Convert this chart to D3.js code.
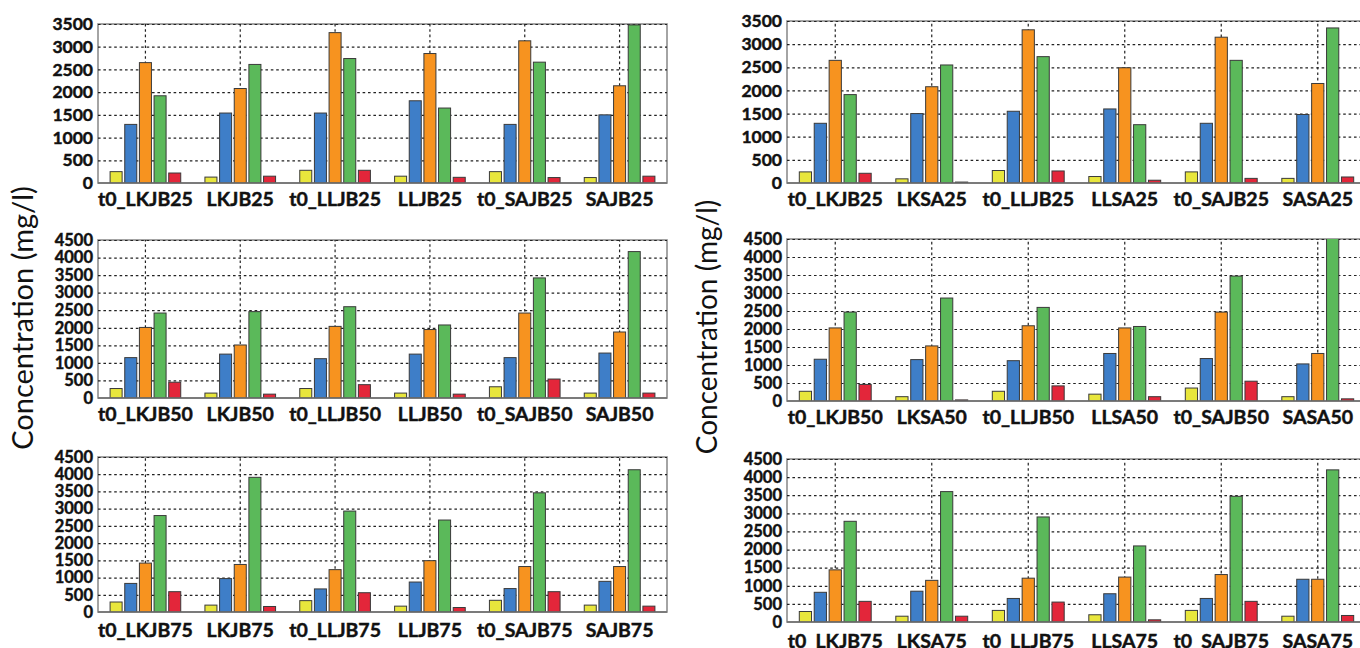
<!DOCTYPE html>
<html>
<head>
<meta charset="utf-8">
<script src="https://cdn.jsdelivr.net/npm/d3@7"></script>
<style>
  html, body { margin: 0; padding: 0; background: #ffffff; }
  svg { display: block; }
</style>
</head>
<body>
<svg id="chart" width="1360" height="648"></svg>
<script>
// Sample groups for each panel (left column: JB series, right column: JB vs SA series)
const groups25L = ["t0_LKJB25", "LKJB25", "t0_LLJB25", "LLJB25", "t0_SAJB25", "SAJB25"];
const groups25R = ["t0_LKJB25", "LKSA25", "t0_LLJB25", "LLSA25", "t0_SAJB25", "SASA25"];
const groups50L = ["t0_LKJB50", "LKJB50", "t0_LLJB50", "LLJB50", "t0_SAJB50", "SAJB50"];
const groups50R = ["t0_LKJB50", "LKSA50", "t0_LLJB50", "LLSA50", "t0_SAJB50", "SASA50"];
const groups75L = ["t0_LKJB75", "LKJB75", "t0_LLJB75", "LLJB75", "t0_SAJB75", "SAJB75"];
const groups75R = ["t0_LKJB75", "LKSA75", "t0_LLJB75", "LLSA75", "t0_SAJB75", "SASA75"];

// Concentrations (mg/l), one row per group, five measured species per row
const conc25L = [
  [250, 1290, 2650, 1920, 220],
  [130, 1540, 2080, 2610, 150],
  [280, 1540, 3310, 2740, 280],
  [150, 1810, 2850, 1650, 125],
  [250, 1290, 3130, 2660, 120],
  [120, 1500, 2140, 3480, 150]
];
const conc25R = [
  [240, 1290, 2650, 1910, 210],
  [90, 1500, 2080, 2550, 20],
  [270, 1550, 3310, 2730, 260],
  [140, 1600, 2490, 1260, 60],
  [240, 1290, 3150, 2650, 100],
  [100, 1480, 2150, 3350, 130]
];
const conc50L = [
  [270, 1150, 2010, 2420, 450],
  [140, 1250, 1510, 2460, 110],
  [270, 1120, 2040, 2600, 380],
  [140, 1250, 1950, 2080, 110],
  [320, 1150, 2420, 3420, 540],
  [140, 1280, 1880, 4170, 140]
];
const conc50R = [
  [270, 1160, 2030, 2470, 460],
  [120, 1150, 1530, 2860, 30],
  [270, 1120, 2090, 2600, 420],
  [190, 1320, 2030, 2070, 120],
  [360, 1180, 2470, 3470, 550],
  [120, 1030, 1320, 4600, 60]
];
const conc75L = [
  [290, 830, 1420, 2800, 590],
  [200, 970, 1380, 3910, 160],
  [330, 670, 1230, 2930, 560],
  [170, 870, 1490, 2670, 130],
  [340, 680, 1320, 3460, 590],
  [200, 890, 1320, 4130, 170]
];
const conc75R = [
  [290, 820, 1440, 2780, 570],
  [160, 850, 1150, 3600, 160],
  [320, 650, 1210, 2900, 550],
  [200, 780, 1240, 2100, 60],
  [320, 650, 1310, 3470, 570],
  [160, 1180, 1180, 4200, 180]
];

// Y tick labels
const ticks3500 = [0, 500, 1000, 1500, 2000, 2500, 3000, 3500];
const ticks4500 = [0, 500, 1000, 1500, 2000, 2500, 3000, 3500, 4000, 4500];

// Bar fill per species
const barColors = ["#e8e63c", "#3e7ec8", "#f7931f", "#5bb95a", "#e3263a"];

const axisTitle = "Concentration (mg/l)";

// Panel placement
const panels = [
  { groups: groups25L, values: conc25L, ticks: ticks3500, x0: 98,  x1: 667,  top: 24,  zero: 183, pad: 9 },
  { groups: groups25R, values: conc25R, ticks: ticks3500, x0: 787, x1: 1366, top: 21,  zero: 183, pad: 9 },
  { groups: groups50L, values: conc50L, ticks: ticks4500, x0: 98,  x1: 667,  top: 240, zero: 398, pad: 9 },
  { groups: groups50R, values: conc50R, ticks: ticks4500, x0: 787, x1: 1366, top: 239, zero: 401, pad: 9 },
  { groups: groups75L, values: conc75L, ticks: ticks4500, x0: 98,  x1: 667,  top: 457, zero: 612, pad: 11 },
  { groups: groups75R, values: conc75R, ticks: ticks4500, x0: 787, x1: 1366, top: 459, zero: 622, pad: 12 }
];

const svg = d3.select("#chart");
const FONT = "Lato, 'Open Sans', 'DejaVu Sans', sans-serif";

panels.forEach((p, i) => {
  const g = svg.append("g");
  const yMax = p.ticks[p.ticks.length - 1];

  const x = d3.scaleBand().domain(p.groups).range([p.x0, p.x1]);
  const inner = x.bandwidth() * 0.745;
  const xs = d3.scaleBand().domain(d3.range(5)).range([-inner / 2, inner / 2]).paddingInner(0.18);
  const y = d3.scaleLinear().domain([0, yMax]).range([p.zero, p.top]);

  const clipId = "plot-clip-" + i;
  svg.append("defs").append("clipPath").attr("id", clipId)
    .append("rect")
    .attr("x", p.x0).attr("y", p.top)
    .attr("width", p.x1 - p.x0).attr("height", p.zero - p.top);

  // plot frame
  g.append("rect")
    .attr("x", p.x0).attr("y", p.top)
    .attr("width", p.x1 - p.x0).attr("height", p.zero - p.top)
    .attr("fill", "#ffffff")
    .attr("stroke", "#8e8e8e")
    .attr("stroke-width", 1.6);

  // horizontal grid
  const hGrid = g.append("g")
    .attr("transform", `translate(${p.x0},0)`)
    .call(d3.axisLeft(y).tickValues(p.ticks.filter(t => t > 0)).tickSize(-(p.x1 - p.x0)).tickFormat(""));
  hGrid.select(".domain").remove();
  hGrid.selectAll("line").attr("stroke", "#222").attr("stroke-width", 1.2).attr("stroke-dasharray", "2.6,2.8");

  // vertical grid at group centres
  const vGrid = g.append("g")
    .attr("transform", `translate(0,${p.zero})`)
    .call(d3.axisBottom(x).tickSize(-(p.zero - p.top)).tickFormat(""));
  vGrid.select(".domain").remove();
  vGrid.selectAll("line").attr("stroke", "#222").attr("stroke-width", 1.2).attr("stroke-dasharray", "2.6,2.8");

  // bars
  const plot = g.append("g").attr("clip-path", `url(#${clipId})`);
  const grp = plot.selectAll("g.grp")
    .data(p.groups.map((name, k) => ({ name, vals: p.values[k] })))
    .join("g")
    .attr("class", "grp")
    .attr("transform", d => `translate(${x(d.name) + x.bandwidth() / 2},0)`);
  grp.selectAll("rect")
    .data(d => d.vals.map((v, s) => ({ v, s })))
    .join("rect")
    .attr("x", d => xs(d.s))
    .attr("width", xs.bandwidth())
    .attr("y", d => y(d.v))
    .attr("height", d => y(0) - y(d.v))
    .attr("fill", d => barColors[d.s])
    .attr("stroke", "#3a3a3a")
    .attr("stroke-width", 1);

  // baseline
  g.append("line")
    .attr("x1", p.x0).attr("x2", p.x1)
    .attr("y1", p.zero).attr("y2", p.zero)
    .attr("stroke", "#6e6e6e").attr("stroke-width", 1.6);

  // y tick labels
  const yAxis = g.append("g")
    .attr("transform", `translate(${p.x0},0)`)
    .call(d3.axisLeft(y).tickValues(p.ticks).tickSize(0).tickPadding(5).tickFormat(d3.format("d")));
  yAxis.select(".domain").remove();
  yAxis.selectAll("text")
    .attr("font-family", FONT).attr("font-weight", 700)
    .attr("font-size", p.ticks.length > 8 ? 16.5 : 17.5)
    .attr("fill", "#111").attr("stroke", "#111").attr("stroke-width", 0.45);

  // x tick labels
  const xAxis = g.append("g")
    .attr("transform", `translate(0,${p.zero})`)
    .call(d3.axisBottom(x).tickSize(0).tickPadding(p.pad));
  xAxis.select(".domain").remove();
  xAxis.selectAll("text")
    .attr("font-family", FONT).attr("font-weight", 700)
    .attr("font-size", 19.5)
    .attr("fill", "#111").attr("stroke", "#111").attr("stroke-width", 0.45);
});

// shared y-axis titles, one per column
[{ x: 33, y: 318, size: 29 }, { x: 717, y: 327, size: 28 }].forEach(t => {
  svg.append("text")
    .attr("transform", `translate(${t.x},${t.y}) rotate(-90)`)
    .attr("text-anchor", "middle")
    .attr("font-family", FONT)
    .attr("font-size", t.size)
    .attr("fill", "#111")
    .text(axisTitle);
});
</script>
</body>
</html>
